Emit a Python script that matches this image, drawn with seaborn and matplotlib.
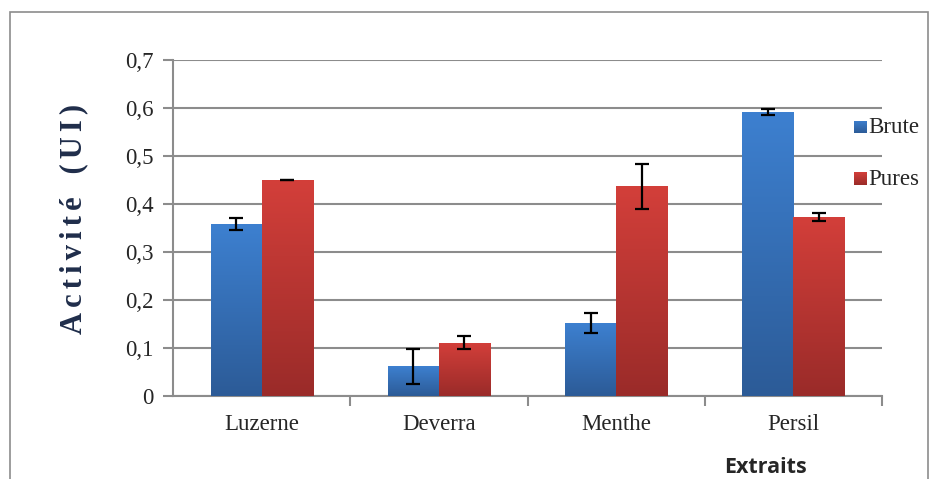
import numpy as np
import pandas as pd
import seaborn as sns
import matplotlib
matplotlib.use("Agg")
from matplotlib import pyplot as plt
from matplotlib.colors import LinearSegmentedColormap
from matplotlib.patches import Rectangle
from matplotlib.ticker import FuncFormatter

extraits = ["Luzerne", "Deverra", "Menthe", "Persil"]
brute = [0.358, 0.062, 0.152, 0.591]
brute_err = [0.013, 0.036, 0.021, 0.006]
pures = [0.450, 0.111, 0.437, 0.373]
pures_err = [0.001, 0.013, 0.047, 0.009]

df = pd.DataFrame({
    "Extraits": extraits * 2,
    "type": ["Brute"] * 4 + ["Pures"] * 4,
    "val": brute + pures,
    "err": brute_err + pures_err,
})

sns.set_style("white")
plt.rcParams["font.family"] = ["Liberation Serif", "DejaVu Serif"]

fig = plt.figure(figsize=(9.32, 4.79), dpi=100)
ax = fig.add_axes([0.1856, 0.1733, 0.7608, 0.7014])

grid_c = "#8c8c8c"
sns.barplot(data=df, x="Extraits", y="val", hue="type", order=extraits,
            palette={"Brute": "#3a78c6", "Pures": "#c93b37"},
            width=0.576, gap=0, errorbar=None, saturation=1, ax=ax,
            linewidth=0, legend=False, zorder=3)

# gradient fill over each bar, plus errorbars from bar geometry
grads = {
    0: LinearSegmentedColormap.from_list("b", ["#2c5b97", "#3d80d0"]),
    1: LinearSegmentedColormap.from_list("r", ["#9a2b29", "#d33f3a"]),
}
errs = [brute_err, pures_err]
vals = [brute, pures]
grad = np.linspace(0, 1, 256).reshape(-1, 1)
bar_conts = list(ax.containers)
for k, cont in enumerate(bar_conts):
    for i, p in enumerate(cont.patches):
        x0, w, h = p.get_x(), p.get_width(), p.get_height()
        im = ax.imshow(grad, cmap=grads[k], origin="lower", aspect="auto",
                       extent=[x0, x0 + w, 0, h], zorder=3.5)
        im.set_clip_path(p)
        ax.errorbar(x0 + w / 2, vals[k][i], yerr=errs[k][i], fmt="none",
                    ecolor="black", elinewidth=1.6, capsize=5, capthick=1.6,
                    zorder=5)

ax.set_xlim(-0.5, 3.5)
ax.set_ylim(0, 0.7)
ax.set_yticks(np.arange(0, 0.71, 0.1))
ax.yaxis.set_major_formatter(FuncFormatter(lambda v, _: ("%.1f" % v).replace(".", ",") if v > 0 else "0"))
ax.yaxis.grid(True, color=grid_c, linewidth=1.5, zorder=0)
ax.set_axisbelow(True)

ax.set_xticks(range(4))
ax.set_xticklabels(extraits, fontsize=16.5)
ax.tick_params(axis="x", length=0, pad=13)
ax.set_xticks([0.5, 1.5, 2.5, 3.5], minor=True)
ax.tick_params(axis="x", which="minor", length=7, width=1.5, color=grid_c, direction="out", bottom=True)
ax.tick_params(axis="y", length=7, width=1.5, color=grid_c, labelsize=16.5, pad=7, left=True)

for s in ["top", "right"]:
    ax.spines[s].set_visible(False)
for s in ["left", "bottom"]:
    ax.spines[s].set_color(grid_c)
    ax.spines[s].set_linewidth(1.5)

ax.set_xlabel("")
ax.set_ylabel("")
ylab = "\u2006".join("Activité") + "   " + "\u2006".join("(UI)")
fig.text(74 / 932, 1 - 219 / 479, ylab, fontsize=22, fontweight="bold",
         color="#1f2d4a", rotation=90, ha="center", va="center")

fig.text(0.821, 0.012, "Extraits", fontsize=15.5, fontweight="bold",
         family=["Open Sans", "DejaVu Sans"], ha="center", va="baseline")

# legend
for lbl, cmap, yy in [("Brute", grads[0], 0.722), ("Pures", grads[1], 0.614)]:
    lax = fig.add_axes([0.9165, yy, 0.0129, 0.026])
    lax.imshow(grad, cmap=cmap, origin="lower", aspect="auto")
    lax.set_axis_off()
    fig.text(0.932, yy + 0.011, lbl, fontsize=16.5, va="center", ha="left")

fig.patches.append(Rectangle((0.011, -0.05), 0.985, 1.024, transform=fig.transFigure,
                             fill=False, edgecolor="#8c8c8c", linewidth=1.2))

fig.savefig("out.png", dpi=100)
